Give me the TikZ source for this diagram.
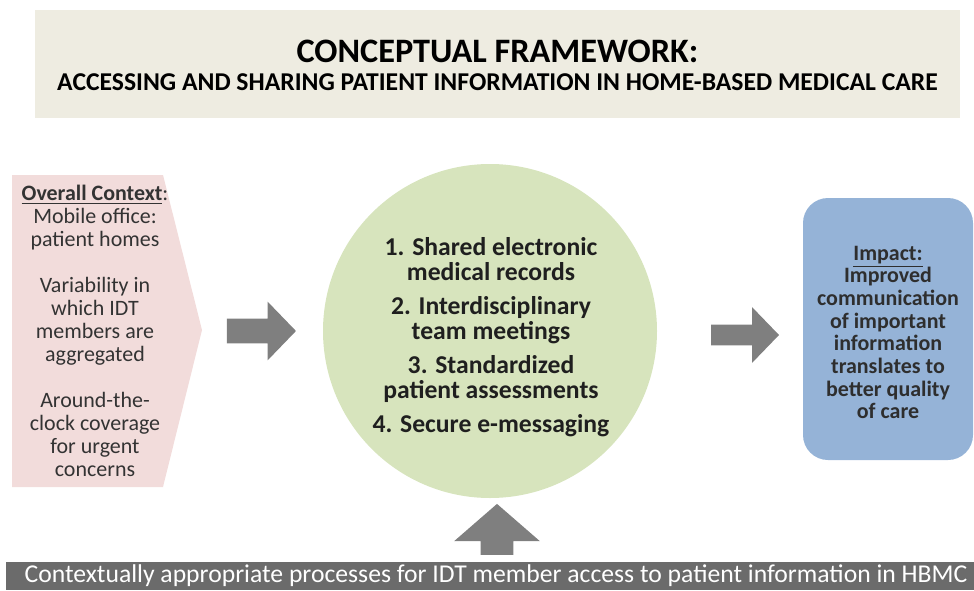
\documentclass[tikz,border=0pt]{standalone}
\usepackage{fontspec}
\setmainfont{Carlito}
\usepackage{xcolor}
\usetikzlibrary{shapes.arrows, positioning}

\definecolor{titlebg}{HTML}{EEECE1}
\definecolor{ctxpink}{HTML}{F2DCDB}
\definecolor{coregreen}{HTML}{D7E4BD}
\definecolor{impactblue}{HTML}{95B3D7}
\definecolor{arrowgray}{HTML}{7F7F7F}
\definecolor{bargray}{HTML}{6B6B6B}

\begin{document}
\begin{tikzpicture}

% =========================
% Styles
% =========================
\tikzset{
    titlebox/.style={fill=titlebg, inner sep=0pt},
    bodytext/.style={align=center, text=black!80, font=\fontsize{12.5}{13.2}\selectfont},
    core/.style={circle, fill=coregreen, inner sep=0pt},
    corelist/.style={align=center, text=black!88, font=\bfseries\fontsize{14.6}{14.4}\selectfont},
    impact/.style={rounded corners=0.5cm, fill=impactblue, inner sep=0pt, align=center,
        text=black!82, font=\bfseries\fontsize{12.5}{12.9}\selectfont},
    blockarrow/.style={single arrow, fill=arrowgray, inner xsep=0pt, single arrow tip angle=#1},
    blockarrow/.default=92
}

\useasboundingbox (0,0) rectangle (19.48,-11.8);

% =========================
% Title
% =========================
\node[titlebox, minimum width=18.5cm, minimum height=2.16cm] (title) at (9.95,-1.28) {};
\node[font=\bfseries\fontsize{19.5}{22}\selectfont] (head) at (9.95,-1.02) {CONCEPTUAL FRAMEWORK:};
\node[font=\bfseries\fontsize{14.6}{16}\selectfont] (subhead) at (9.95,-1.64)
    {ACCESSING AND SHARING PATIENT INFORMATION IN HOME-BASED MEDICAL CARE};

% =========================
% Overall context (pentagon)
% =========================
\fill[ctxpink] (0.24,-3.5) -- (3.26,-3.5) -- (4.04,-6.6) -- (3.26,-9.74) -- (0.24,-9.74) -- cycle;
\coordinate (ctxtip) at (4.04,-6.6);
\node[bodytext] (context) at (1.9,-6.62) {%
    \textbf{\underline{Overall Context}}:\\
    Mobile office:\\
    patient homes\\[12.6pt]
    Variability in\\
    which IDT\\
    members are\\
    aggregated\\[12.6pt]
    Around-the-\\
    clock coverage\\
    for urgent\\
    concerns};

% =========================
% Core processes
% =========================
\node[core, minimum size=6.68cm] (procs) at (9.8,-6.62) {};
\node[corelist] (procslist) at (9.82,-6.74) {%
    1. Shared electronic\\
    medical records\\[4.8pt]
    2. Interdisciplinary\\
    team meetings\\[4.8pt]
    3. Standardized\\
    patient assessments\\[4.8pt]
    4. Secure e-messaging};

% =========================
% Impact
% =========================
\node[impact, minimum width=3.4cm, minimum height=5.24cm] (impact) at (17.76,-6.58) {};
\node[impact, fill=none] (impacttext) at (17.76,-6.65) {%
    \underline{Impact:}\\
    Improved\\
    communication\\
    of important\\
    information\\
    translates to\\
    better quality\\
    of care};

% =========================
% Bottom bar
% =========================
\node[fill=bargray, minimum width=19.6cm, minimum height=0.56cm, inner sep=0pt,
    text=white, font=\fontsize{14.6}{15}\selectfont] (hbmc) at (9.92,-11.52)
    {Contextually appropriate processes for IDT member access to patient information in HBMC};

% =========================
% Block arrows
% =========================
\node[blockarrow, minimum height=1.38cm, inner ysep=0.24cm, single arrow head extend=0.34cm]
    (toprocs) at (5.11,-6.62) {};
\node[blockarrow, minimum height=1.36cm, inner ysep=0.2cm, single arrow head extend=0.35cm]
    (toimpact) at (14.8,-6.7) {};
\node[blockarrow=98, shape border rotate=90, minimum height=1.02cm, inner ysep=0pt,
    inner xsep=0.32cm, single arrow head extend=0.53cm] (fromhbmc) at (9.94,-10.73) {};

\end{tikzpicture}
\end{document}
